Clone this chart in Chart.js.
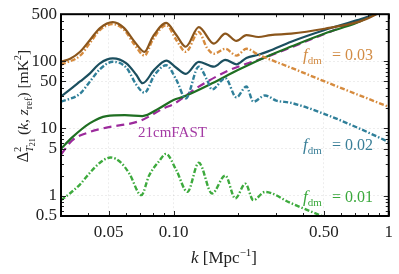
<!DOCTYPE html>
<html>
<head>
<meta charset="utf-8">
<script src="https://cdn.jsdelivr.net/npm/chart.js@4.4.1/dist/chart.umd.min.js"></script>
<style>
  html, body { margin: 0; padding: 0; background: #fff; }
</style>
</head>
<body>
<canvas id="chart" width="399" height="274"></canvas>
<script>
// ticks
const xTicks = [0.05, 0.1, 0.5, 1];
const xTickLabels = ['0.05', '0.10', '0.50', '1'];
const yTicks = [0.5, 1, 5, 10, 50, 100, 500];
const yTickLabels = ['0.5', '1', '5', '10', '50', '100', '500'];

// f_dm = 0.03
const kF03Solid = [0.03, 0.0331, 0.0368, 0.0409, 0.0455, 0.0522, 0.059, 0.066, 0.0733, 0.080, 0.0925, 0.103, 0.114, 0.131, 0.154, 0.174, 0.196, 0.218, 0.248, 0.282, 0.352, 0.504, 0.715, 0.821, 1.0];
const vF03Solid = [98, 109, 138, 207, 311, 381, 311, 194, 138, 229, 372, 245, 164, 322, 183, 257, 200, 245, 229, 245, 257, 304, 381, 452, 620];
const kF03Dash = [0.03, 0.0368, 0.0409, 0.0455, 0.0522, 0.059, 0.066, 0.0733, 0.080, 0.0925, 0.103, 0.114, 0.131, 0.143, 0.154, 0.174, 0.196, 0.218, 0.248, 0.352, 0.504, 0.715, 1.0];
const vF03Dash = [89, 121, 187, 291, 356, 291, 175, 121, 207, 344, 207, 138, 272, 158, 129, 153, 121, 153, 125, 80, 50, 32, 21];

// f_dm = 0.02
const kF02Solid = [0.03, 0.0331, 0.0368, 0.0409, 0.0455, 0.0522, 0.0604, 0.0671, 0.0718, 0.0815, 0.0925, 0.103, 0.114, 0.131, 0.154, 0.174, 0.196, 0.218, 0.248, 0.275, 0.352, 0.504, 0.715, 0.821, 1.0];
const vF02Solid = [30, 38, 50, 66, 93, 110, 93, 63, 47, 75, 102, 80, 65, 98, 83, 105, 90, 112, 125, 140, 195, 291, 408, 470, 620];
const kF02Dash = [0.03, 0.0368, 0.0409, 0.0455, 0.0522, 0.0604, 0.0671, 0.0733, 0.0815, 0.0925, 0.103, 0.114, 0.131, 0.143, 0.151, 0.174, 0.196, 0.218, 0.235, 0.266, 0.30, 0.352, 0.504, 0.715, 1.0];
const vF02Dash = [25, 33, 50, 76, 98, 80, 45, 34, 62, 87, 53, 28, 83, 53, 38, 56, 29, 42, 25, 31, 26, 24, 16.4, 10.3, 6.3];

// f_dm = 0.01
const kF01Solid = [0.03, 0.0337, 0.0409, 0.0488, 0.0594, 0.0716, 0.0859, 0.1, 0.112, 0.151, 0.199, 0.267, 0.352, 0.504, 0.715, 0.821, 1.0];
const vF01Solid = [5.0, 7.3, 12, 15.3, 15.8, 15.3, 20, 26.5, 30, 47, 74, 115, 165, 258, 375, 465, 620];
const kF01Dash = [0.03, 0.0331, 0.0368, 0.0409, 0.0455, 0.051, 0.057, 0.0625, 0.0708, 0.077, 0.0859, 0.0923, 0.103, 0.116, 0.131, 0.151, 0.174, 0.1936, 0.2156, 0.235, 0.2664, 0.35, 0.49, 0.6];
const vF01Dash = [0.86, 1.09, 1.48, 2.2, 3.1, 3.7, 3.1, 2.1, 1.02, 2.0, 3.3, 4.2, 2.4, 1.14, 3.1, 1.08, 2.0, 0.91, 1.51, 0.86, 1.14, 0.78, 0.5, 0.4];

// 21cmFAST
const kFast = [0.03, 0.0337, 0.0409, 0.0488, 0.0695, 0.0902, 0.1, 0.128, 0.179, 0.275, 0.504, 0.821, 1.0];
const vFast = [4.1, 6.6, 8.9, 10.3, 12.9, 20, 23, 40, 72, 118, 255, 470, 620];

const SERIF = '"Liberation Serif", "DejaVu Serif", serif';
const DASHDOT = [5, 2, 1.5, 2];

function pts(ks, vs) {
    return ks.map((k, i) => ({ x: k, y: vs[i] }));
}

function line(ks, vs, color, dash, width) {
    return {
        data: pts(ks, vs),
        borderColor: color,
        borderWidth: width || 2,
        borderDash: dash || [],
        pointRadius: 0,
        fill: false,
        cubicInterpolationMode: 'monotone'
    };
}

// text with sub/superscripts, parts: {t, s, it, dy, over}
function layoutParts(ctx, parts) {
    let x = 0, lastStart = 0, lastW = 0;
    const placed = [];
    for (const p of parts) {
        ctx.font = `${p.it ? 'italic ' : ''}${p.s}px ${SERIF}`;
        const w = ctx.measureText(p.t).width;
        if (p.over) {
            placed.push({ ...p, x: lastStart });
            lastW = Math.max(lastW, w);
            x = lastStart + lastW;
        } else {
            placed.push({ ...p, x: x });
            lastStart = x; lastW = w; x += w;
        }
    }
    return { placed, width: x };
}

function drawParts(ctx, parts, x0, y0, align, color) {
    const { placed, width } = layoutParts(ctx, parts);
    const start = align === 'center' ? x0 - width / 2 : align === 'right' ? x0 - width : x0;
    ctx.fillStyle = color;
    ctx.textAlign = 'left';
    ctx.textBaseline = 'alphabetic';
    placed.forEach(p => {
        ctx.font = `${p.it ? 'italic ' : ''}${p.s}px ${SERIF}`;
        ctx.fillText(p.t, start + p.x, y0 + (p.dy || 0));
    });
}

const textPlugin = {
    id: 'texts',
    afterDraw(chart) {
        const ctx = chart.ctx;
        const { left, right, top, bottom } = chart.chartArea;
        const xs = chart.scales.x, ys = chart.scales.y;
        ctx.save();

        // inward ticks on all four sides
        ctx.strokeStyle = '#222';
        ctx.lineWidth = 1;
        const xMinor = [];
        [0.01, 0.1].forEach(d => { for (let i = 1; i <= 9; i++) xMinor.push(d * i); });
        xMinor.push(1);
        const yMinor = [];
        [0.1, 1, 10, 100].forEach(d => { for (let i = 1; i <= 9; i++) yMinor.push(d * i); });
        ctx.beginPath();
        xMinor.forEach(v => {
            if (v < 0.03 - 1e-9 || v > 1 + 1e-9) return;
            const px = Math.round(xs.getPixelForValue(v)) + 0.5;
            const len = xTicks.some(t => Math.abs(t - v) < 1e-9) ? 5 : 3;
            ctx.moveTo(px, bottom); ctx.lineTo(px, bottom - len);
            ctx.moveTo(px, top); ctx.lineTo(px, top + len);
        });
        yMinor.forEach(v => {
            if (v < 0.5 - 1e-9 || v > 500 + 1e-9) return;
            const py = Math.round(ys.getPixelForValue(v)) + 0.5;
            const len = yTicks.some(t => Math.abs(t - v) < 1e-9) ? 5 : 3;
            ctx.moveTo(left, py); ctx.lineTo(left + len, py);
            ctx.moveTo(right, py); ctx.lineTo(right - len, py);
        });
        ctx.stroke();

        // frame
        ctx.strokeStyle = '#000';
        ctx.lineWidth = 2;
        ctx.strokeRect(left, top, right - left, bottom - top);

        // axis titles
        drawParts(ctx, [
            { t: 'k', s: 17, it: true },
            { t: ' [Mpc', s: 17 },
            { t: '\u22121', s: 11, dy: -7 },
            { t: ']', s: 17 }
        ], 224, 263, 'center', '#222');

        ctx.save();
        ctx.translate(28, 106);
        ctx.rotate(-Math.PI / 2);
        drawParts(ctx, [
            { t: '\u0394', s: 16 },
            { t: '2', s: 10.5, dy: -7.5 },
            { t: 'T', s: 10.5, it: true, dy: 5, over: true },
            { t: '21', s: 8, dy: 7 },
            { t: '\u2009(', s: 15.5 },
            { t: 'k', s: 15.5, it: true },
            { t: ', ', s: 15.5 },
            { t: 'z', s: 15.5, it: true },
            { t: 'ref', s: 10.5, dy: 4 },
            { t: ')', s: 15.5 },
            { t: ' [mK', s: 15.5 },
            { t: '2', s: 10.5, dy: -7 },
            { t: ']', s: 15.5 }
        ], 0, 0, 'center', '#222');
        ctx.restore();

        // annotations
        const notes = [
            { val: '= 0.03', y: 60, color: '#d28c45' },
            { val: '= 0.02', y: 150, color: '#3a7f98' },
            { val: '= 0.01', y: 202, color: '#3aa83c' }
        ];
        notes.forEach(n => {
            drawParts(ctx, [
                { t: 'f', s: 17, it: true },
                { t: 'dm', s: 11, dy: 4 }
            ], 303, n.y, 'left', n.color);
            drawParts(ctx, [{ t: n.val, s: 16 }], 373, n.y, 'right', n.color);
        });
        drawParts(ctx, [{ t: '21cmFAST', s: 15 }], 138, 137, 'left', '#a43aa4');

        ctx.restore();
    }
};

const ctx = document.getElementById('chart').getContext('2d');

new Chart(ctx, {
    type: 'line',
    data: {
        datasets: [
            line(kF03Solid, vF03Solid, '#8b561c', null, 2.2),
            line(kF03Dash, vF03Dash, '#d68b3e', DASHDOT, 2.4),
            line(kF02Solid, vF02Solid, '#1b4f5f', null, 2.2),
            line(kF02Dash, vF02Dash, '#2f7f99', DASHDOT, 2.4),
            line(kF01Solid, vF01Solid, '#1f6f22', null, 2.2),
            line(kF01Dash, vF01Dash, '#3daa3d', DASHDOT, 2.4),
            line(kFast, vFast, '#9c2a9c', [8, 5], 2.2)
        ]
    },
    options: {
        responsive: false,
        animation: false,
        events: [],
        layout: { padding: { top: 12, right: 8, left: 0, bottom: 0 } },
        plugins: {
            legend: { display: false },
            tooltip: { enabled: false }
        },
        scales: {
            x: {
                type: 'logarithmic',
                min: 0.03,
                max: 1,
                afterBuildTicks: s => { s.ticks = xTicks.map(v => ({ value: v })); },
                afterFit: s => { s.height = 58; },
                ticks: {
                    callback: v => xTickLabels[xTicks.indexOf(v)],
                    font: { family: SERIF, size: 17 },
                    color: '#222',
                    padding: 6,
                    maxRotation: 0,
                    autoSkip: false
                },
                grid: { color: 'rgba(0,0,0,0.09)', lineWidth: 0.8, drawTicks: false },
                border: { display: false, dash: [2, 2] }
            },
            y: {
                type: 'logarithmic',
                min: 0.5,
                max: 500,
                afterBuildTicks: s => { s.ticks = yTicks.map(v => ({ value: v })); },
                afterFit: s => { s.width = 61; },
                ticks: {
                    callback: v => yTickLabels[yTicks.indexOf(v)],
                    font: { family: SERIF, size: 17 },
                    color: '#222',
                    padding: 4,
                    autoSkip: false
                },
                grid: { color: 'rgba(0,0,0,0.09)', lineWidth: 0.8, drawTicks: false },
                border: { display: false, dash: [2, 2] }
            }
        }
    },
    plugins: [textPlugin]
});
</script>
</body>
</html>
